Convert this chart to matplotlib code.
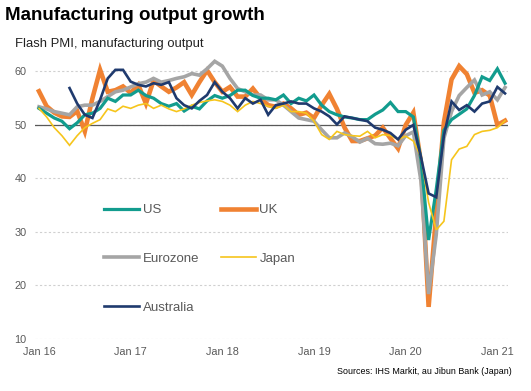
import numpy as np
import pandas as pd
import matplotlib
matplotlib.use('Agg')
import matplotlib.pyplot as plt

plt.rcParams['font.family'] = ['Liberation Sans', 'DejaVu Sans']

months = pd.date_range('2016-01-01', periods=62, freq='MS')
nan = np.nan

us = [53.1, 52.2, 51.3, 50.7, 49.3, 50.4, 51.9, 52.2, 53.1, 55.0, 54.4, 55.6,
      55.6, 56.5, 55.5, 55.0, 54.0, 53.5, 54.0, 52.6, 53.5, 53.0, 54.5, 55.5,
      55.0, 55.5, 56.5, 56.5, 55.5, 55.0, 55.0, 54.7, 55.6, 54.0, 55.0, 54.5,
      55.6, 53.7, 52.5, 51.9, 51.5, 51.3, 51.0, 51.0, 52.0, 52.8, 54.2, 52.5,
      52.5, 51.5, 43.5, 28.5, 38.0, 49.0, 51.0, 52.0, 53.0, 55.5, 59.0, 58.3, 60.5, 57.8]

uk = [56.3, 53.5, 52.3, 51.6, 51.5, 52.6, 48.8, 55.0, 60.3, 56.2, 56.5, 57.2,
      56.0, 57.5, 54.0, 58.3, 57.2, 56.2, 57.0, 58.0, 55.6, 58.0, 60.2, 58.0,
      56.2, 57.1, 55.3, 55.3, 56.8, 55.0, 53.7, 53.4, 54.0, 53.1, 51.9, 52.3,
      51.3, 53.7, 55.8, 53.0, 49.5, 47.0, 47.0, 47.5, 48.0, 49.5, 47.5, 45.6,
      50.0, 52.3, 43.0, 16.0, 33.5, 50.5, 58.5, 61.0, 59.5, 56.0, 56.5, 55.5, 50.0, 50.8]

eurozone = [53.4, 53.0, 52.5, 52.2, 51.9, 53.4, 53.7, 53.7, 54.4, 55.3, 56.2, 56.5,
            57.1, 57.7, 58.0, 58.7, 58.0, 58.3, 58.7, 59.0, 59.6, 59.3, 60.5, 61.9,
            61.0, 58.7, 56.8, 56.2, 55.6, 55.6, 54.7, 54.7, 53.7, 52.5, 51.3, 51.0,
            50.7, 49.1, 47.6, 47.6, 48.5, 47.8, 46.8, 47.5, 46.5, 46.4, 46.6, 46.1,
            48.0, 48.7, 39.5, 18.4, 29.5, 47.5, 52.5, 55.5, 57.0, 58.4, 55.6, 56.2, 54.7, 57.0]

japan = [53.1, 51.5, 49.5, 48.0, 46.2, 48.0, 49.5, 50.3, 51.0, 53.0, 52.5, 53.5,
         53.1, 53.7, 54.0, 53.1, 53.7, 53.0, 52.5, 53.0, 53.7, 54.2, 54.5, 54.7,
         54.4, 53.7, 52.5, 53.7, 54.4, 54.0, 53.5, 53.1, 53.7, 52.5, 52.5, 52.2,
         50.7, 48.2, 47.3, 48.8, 48.2, 48.0, 47.9, 48.8, 47.6, 48.2, 48.0, 47.3,
         47.9, 47.0, 44.0, 35.5, 30.4, 32.0, 43.5, 45.5, 46.0, 48.2, 48.8, 49.0, 49.5, 50.8]

australia = [nan, nan, nan, nan, 56.9, 54.0, 51.9, 51.3, 54.7, 58.7, 60.3, 60.3,
             58.1, 57.5, 57.2, 57.8, 57.5, 58.0, 55.0, 53.7, 53.1, 54.5, 55.6, 58.0,
             56.2, 55.0, 53.1, 55.0, 54.0, 54.7, 51.9, 53.7, 54.0, 54.4, 54.0, 54.0,
             53.1, 52.5, 51.6, 50.1, 51.6, 51.3, 51.0, 50.7, 49.5, 49.1, 48.5, 47.3,
             49.1, 50.0, 44.0, 37.2, 36.5, 48.0, 54.4, 52.8, 53.7, 52.5, 54.0, 54.4, 57.1, 55.9]

colors = {'US': '#129C8E', 'UK': '#F08232', 'Eurozone': '#A5A5A5',
          'Japan': '#F6C51C', 'Australia': '#1F3A6E'}
widths = {'US': 2.3, 'UK': 3.3, 'Eurozone': 2.6, 'Japan': 1.2, 'Australia': 1.9}
data = {'US': us, 'UK': uk, 'Eurozone': eurozone, 'Japan': japan, 'Australia': australia}
draw_order = ['UK', 'Eurozone', 'US', 'Japan', 'Australia']

W, H = 531, 391
fig = plt.figure(figsize=(W / 100, H / 100), dpi=100)
ax = fig.add_axes([35 / W, (H - 339) / H, (508 - 35) / W, (339 - 55.4) / H])

x = np.arange(len(months))
handles = {}
for i, n in enumerate(draw_order):
    ln, = ax.plot(x, data[n], color=colors[n], lw=widths[n], label=n,
                  solid_joinstyle='miter', zorder=3 + i)
    handles[n] = ln

ax.set_ylim(10, 63)
ax.set_xlim(-0.52, 61.39)
ax.set_yticks([10, 20, 30, 40, 50, 60])
jan_idx = [i for i, d in enumerate(months) if d.month == 1]
ax.set_xticks(jan_idx)
ax.set_xticklabels([months[i].strftime('Jan %y') for i in jan_idx])
ax.tick_params(axis='both', length=0, labelsize=7.8, labelcolor='#595959')
ax.tick_params(axis='y', pad=6)
ax.tick_params(axis='x', pad=6)
for s in ax.spines.values():
    s.set_visible(False)
ax.yaxis.grid(True, color='#D0D0D0', lw=0.8, ls=(0, (2, 2)))
ax.set_axisbelow(True)
ax.axhline(50, color='#595959', lw=0.9, zorder=2)

order = ['US', 'Eurozone', 'Australia', 'UK', 'Japan']
leg = ax.legend([handles[n] for n in order], order, ncol=2, frameon=False,
                loc='upper left', bbox_to_anchor=(104 / W, 1 - 204 / H),
                bbox_transform=fig.transFigure, borderpad=0, borderaxespad=0,
                handlelength=2.65, handletextpad=0.3, columnspacing=1.6,
                labelspacing=2.77, fontsize=9.5)
for t in leg.get_texts():
    t.set_color('#595959')

fig.text(5 / W, 1 - 7 / H, 'Manufacturing output growth', fontsize=13.5,
         fontweight='bold', va='top', ha='left', color='black')
fig.text(15 / W, 1 - 38 / H, 'Flash PMI, manufacturing output', fontsize=9.4,
         va='top', ha='left', color='#222222')
fig.text(512 / W, 1 - 371 / H, 'Sources: IHS Markit, au Jibun Bank (Japan)',
         fontsize=6.4, va='center', ha='right', color='black')

fig.savefig('out.png', dpi=100)
